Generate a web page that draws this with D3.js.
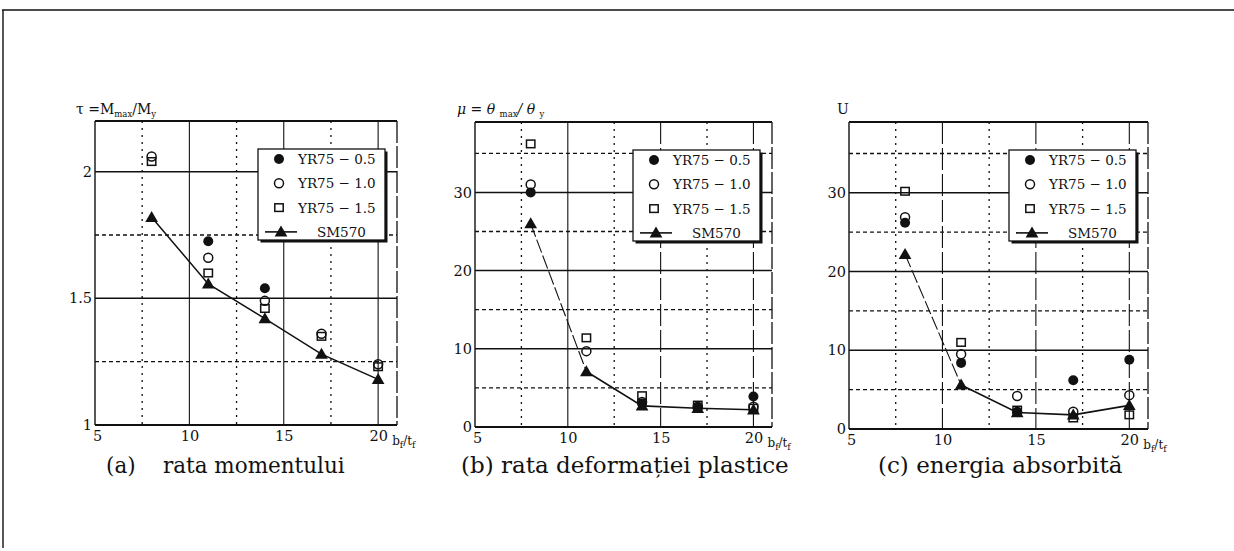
<!DOCTYPE html>
<html><head><meta charset="utf-8">
<script src="https://cdn.jsdelivr.net/npm/d3@7"></script>
<style>
html,body{margin:0;padding:0;background:#fff;}
svg{display:block;}
text{font-family:"DejaVu Serif","Liberation Serif",serif;fill:#111;}
</style></head>
<body>
<svg id="c" width="1234" height="551"></svg>
<script>
// ---- data ----
const xCats = [8, 11, 14, 17, 20];
const seriesNames = ["YR75 \u2212 0.5", "YR75 \u2212 1.0", "YR75 \u2212 1.5", "SM570"];
const xTicks = [5, 10, 15, 20];
const xMinor = [7.5, 12.5, 17.5];

// (a) moment ratio
const aYR05 = [null, 1.725, 1.54, null, null];
const aYR10 = [2.06, 1.66, 1.49, 1.36, 1.24];
const aYR15 = [2.04, 1.60, 1.46, 1.35, 1.23];
const aSM570 = [1.82, 1.557, 1.42, 1.28, 1.18];
const aYTicks = [1, 1.5, 2];
const aYMinor = [1.25, 1.75];

// (b) plastic deformation ratio
const bYR05 = [30, null, 3.0, 2.5, 3.9];
const bYR10 = [31, 9.7, 3.2, 2.6, 2.6];
const bYR15 = [36.2, 11.4, 4.0, 2.8, 2.4];
const bSM570 = [26, 7.1, 2.7, 2.4, 2.2];
const bYTicks = [0, 10, 20, 30];
const bYMinor = [5, 15, 25, 35];

// (c) absorbed energy
const cYR05 = [26.2, 8.4, 2.2, 6.2, 8.8];
const cYR10 = [26.9, 9.5, 4.2, 2.2, 4.3];
const cYR15 = [30.2, 11.0, 2.4, 1.4, 1.8];
const cSM570 = [22.2, 5.6, 2.1, 1.8, 3.0];
const cYTicks = [0, 10, 20, 30];
const cYMinor = [5, 15, 25, 35];

const captions = ["(a)    rata momentului", "(b) rata deforma\u021biei plastice", "(c) energia absorbit\u0103"];

// ---- layout ----
const panels = [
  {L:95, R:397, T:121, B:425, yDom:[1,2.2], yTicks:aYTicks, yMinor:aYMinor, fmt:d3.format(".1~f"),
   s:[aYR05,aYR10,aYR15,aSM570], dashFirst:false, cap:captions[0], capX:106, capF:21.5, title:"a"},
  {L:475, R:772, T:122, B:427, yDom:[0,39], yTicks:bYTicks, yMinor:bYMinor, fmt:d3.format("d"),
   s:[bYR05,bYR10,bYR15,bSM570], dashFirst:true, cap:captions[1], capX:461, capF:23, title:"b"},
  {L:849, R:1148, T:122, B:429, yDom:[0,39], yTicks:cYTicks, yMinor:cYMinor, fmt:d3.format("d"),
   s:[cYR05,cYR10,cYR15,cSM570], dashFirst:true, cap:captions[2], capX:878, capF:23, title:"c"}
];

const svg = d3.select("#c");
svg.append("line").attr("x1",2).attr("x2",1234).attr("y1",10).attr("y2",10).attr("stroke","#111").attr("stroke-width",1.6);
svg.append("line").attr("x1",3).attr("x2",3).attr("y1",10).attr("y2",548).attr("stroke","#111").attr("stroke-width",1.4);

function marker(g, type, x, y) {
  if (type === 0) g.append("circle").attr("cx",x).attr("cy",y).attr("r",5).attr("fill","#111");
  else if (type === 1) g.append("circle").attr("cx",x).attr("cy",y).attr("r",4.5).attr("fill","none").attr("stroke","#111").attr("stroke-width",1.5);
  else if (type === 2) g.append("rect").attr("x",x-4.2).attr("y",y-3.8).attr("width",8.4).attr("height",7.6).attr("fill","none").attr("stroke","#111").attr("stroke-width",1.5);
  else g.append("path").attr("d",d3.symbol(d3.symbolTriangle, 70)()).attr("transform",`translate(${x},${y+1})`).attr("fill","#111");
}

panels.forEach(p => {
  const x = d3.scaleLinear().domain([5,21]).range([p.L,p.R]);
  const y = d3.scaleLinear().domain(p.yDom).range([p.B,p.T]);
  const g = svg.append("g");

  g.selectAll(".hm").data(p.yMinor).join("line")
    .attr("x1",p.L).attr("x2",p.R).attr("y1",d=>y(d)).attr("y2",d=>y(d))
    .attr("stroke","#111").attr("stroke-width",1.3).attr("stroke-dasharray","4,3");
  g.selectAll(".vm").data(xMinor).join("line")
    .attr("y1",p.T).attr("y2",p.B).attr("x1",d=>x(d)).attr("x2",d=>x(d))
    .attr("stroke","#111").attr("stroke-width",1.3).attr("stroke-dasharray","2,5");
  g.selectAll(".vM").data(xTicks.filter(d=>d>5)).join("line")
    .attr("y1",p.T).attr("y2",p.B).attr("x1",d=>x(d)).attr("x2",d=>x(d))
    .attr("stroke","#111").attr("stroke-width",1.1).attr("stroke-dasharray", (d)=> (p.title==="a" || (p.title==="b" && d===10)) ? null : "22,4");
  g.selectAll(".hM").data(p.yTicks.filter(d=>d>p.yDom[0])).join("line")
    .attr("x1",p.L).attr("x2",p.R).attr("y1",d=>y(d)).attr("y2",d=>y(d))
    .attr("stroke","#111").attr("stroke-width",1.5);

  g.append("line").attr("x1",p.L).attr("x2",p.R).attr("y1",p.T).attr("y2",p.T).attr("stroke","#111").attr("stroke-width",1.8);
  g.append("line").attr("x1",p.L).attr("x2",p.R).attr("y1",p.B).attr("y2",p.B).attr("stroke","#111").attr("stroke-width",2);
  g.append("line").attr("x1",p.L).attr("x2",p.L).attr("y1",p.T).attr("y2",p.B).attr("stroke","#111").attr("stroke-width",1.4);
  g.append("line").attr("x1",p.R).attr("x2",p.R).attr("y1",p.T).attr("y2",p.B).attr("stroke","#111").attr("stroke-width",1.3).attr("stroke-dasharray","22,3");

  const ya = d3.axisLeft(y).tickValues(p.yTicks).tickSize(0).tickPadding(3).tickFormat(p.fmt);
  const yg = g.append("g").attr("transform",`translate(${p.L},0)`).call(ya);
  yg.select(".domain").remove();
  yg.selectAll("text").style("font-family","'DejaVu Serif',serif").style("font-size","14.5px").attr("fill","#111");
  const xa = d3.axisBottom(x).tickValues(xTicks).tickSize(0).tickPadding(6).tickFormat(d3.format("d"));
  const xg = g.append("g").attr("transform",`translate(0,${p.B})`).call(xa);
  xg.select(".domain").remove();
  xg.selectAll("text").style("font-family","'DejaVu Serif',serif").style("font-size","14.5px").attr("fill","#111");
  xg.selectAll(".tick").filter(d=>d===5).select("text").attr("dx",2);

  const xl = g.append("text").attr("x",x(20)+14).attr("y",p.B+20).style("font-size","12px");
  xl.append("tspan").text("b");
  xl.append("tspan").attr("dy",3).style("font-size","9px").text("f");
  xl.append("tspan").attr("dy",-3).text("/t");
  xl.append("tspan").attr("dy",3).style("font-size","9px").text("f");

  const tri = xCats.map((c,i)=>[c,p.s[3][i]]).filter(d=>d[1]!=null);
  const line = d3.line().x(d=>x(d[0])).y(d=>y(d[1]));
  if (p.dashFirst) {
    g.append("path").attr("d",line(tri.slice(0,2))).attr("fill","none").attr("stroke","#111").attr("stroke-width",1.1).attr("stroke-dasharray","14,3");
    g.append("path").attr("d",line(tri.slice(1))).attr("fill","none").attr("stroke","#111").attr("stroke-width",1.6);
  } else {
    g.append("path").attr("d",line(tri)).attr("fill","none").attr("stroke","#111").attr("stroke-width",1.5);
  }
  [2,1,0,3].forEach(si => {
    p.s[si].forEach((v,i) => { if (v!=null) marker(g, si, x(xCats[i]), y(v)); });
  });

  const lw = 127, lh = 91;
  const lx = p.R - 12 - lw, ly = p.T + 28;
  g.append("rect").attr("x",lx+2.5).attr("y",ly+2.5).attr("width",lw).attr("height",lh).attr("fill","#111");
  g.append("rect").attr("x",lx).attr("y",ly).attr("width",lw).attr("height",lh).attr("fill","#fff").attr("stroke","#111").attr("stroke-width",1.3);
  seriesNames.forEach((n,i) => {
    const yy = ly + 10 + i*24.3;
    if (i<3) {
      marker(g, i, lx+21, yy);
      g.append("text").attr("x",lx+40).attr("y",yy+5).style("font-size","13.5px").text(n);
    } else {
      g.append("line").attr("x1",lx+7).attr("x2",lx+39).attr("y1",yy).attr("y2",yy).attr("stroke","#111").attr("stroke-width",1.6);
      marker(g, 3, lx+23, yy);
      g.append("text").attr("x",lx+59).attr("y",yy+5).style("font-size","13.5px").text(n);
    }
  });

  g.append("text").attr("x",p.capX).attr("y",473).style("font-size",p.capF+"px").attr("xml:space","preserve").style("white-space","pre").text(p.cap);
});

const t1 = svg.append("text").attr("x",76).attr("y",114).style("font-size","14px");
t1.append("tspan").text("\u03c4 =M");
t1.append("tspan").attr("dy",3).style("font-size","8.5px").text("max");
t1.append("tspan").attr("dy",-3).text("/M");
t1.append("tspan").attr("dy",3).style("font-size","8.5px").text("y");

const t2 = svg.append("text").attr("x",457).attr("y",114).style("font-size","14px").style("font-style","italic");
t2.append("tspan").text("\u03bc = \u03b8 ");
t2.append("tspan").attr("dy",3).style("font-size","8.5px").style("font-style","normal").text("max");
t2.append("tspan").attr("dy",-3).text("/ \u03b8 ");
t2.append("tspan").attr("dy",3).style("font-size","8.5px").style("font-style","normal").text("y");

svg.append("text").attr("x",837).attr("y",114).style("font-size","14px").text("U");
</script>
</body></html>
